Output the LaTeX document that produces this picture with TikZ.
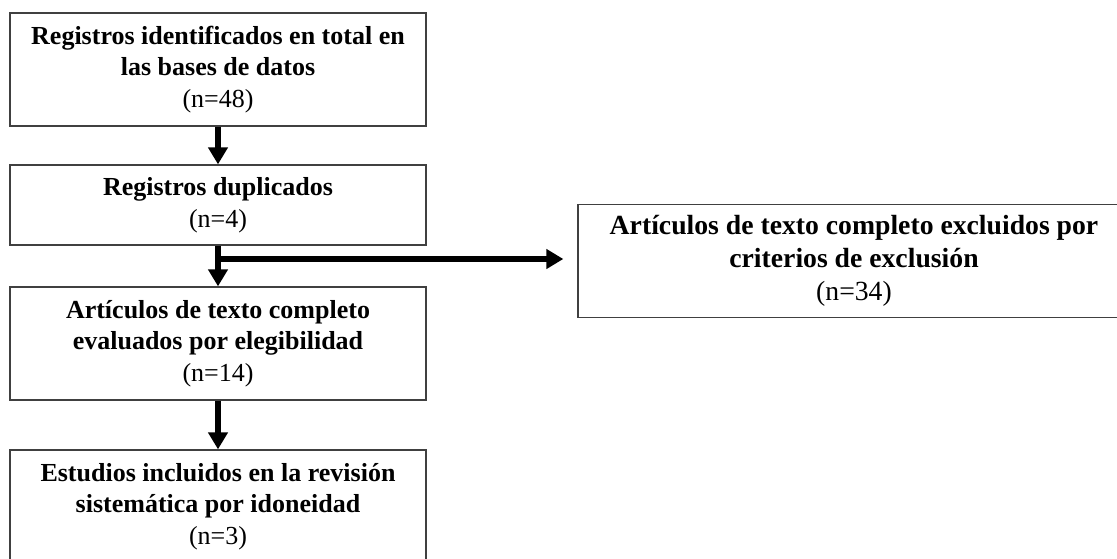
\documentclass[tikz,border=0pt]{standalone}
\usepackage{fontspec}
\setmainfont{Liberation Serif}
\usetikzlibrary{positioning,arrows.meta}
\tikzset{box/.style={draw=black!75,line width=1.3pt,rectangle,minimum width=416pt,minimum height=113pt,align=center,inner sep=0pt,font=\fontsize{26}{31.5}\selectfont\bfseries}}
\tikzset{bigbox/.style={box,minimum width=552pt,font=\fontsize{27.7}{33}\selectfont\bfseries}}
\tikzset{arrow/.style={draw,line width=5.5pt,-{Triangle[width=19pt,length=17pt]}}}

\begin{document}
\begin{tikzpicture}[x=1pt,y=-1pt,node distance=135.5pt]
    \useasboundingbox (0,0) rectangle (1117,558);

    \node[box] (total) at (218,69.5) {Registros identificados en total en\\las bases de datos\\\mdseries(n=48)};
    \node[box,below of=total,minimum height=80pt] (dup) {Registros duplicados\\\mdseries(n=4)};
    \node[box,below of=dup,node distance=138.5pt] (eval) {Art\'iculos de texto completo\\evaluados por elegibilidad\\\mdseries(n=14)};
    \node[box,below of=eval,node distance=163pt] (incl) {Estudios incluidos en la revisi\'on\\sistem\'atica por idoneidad\\\mdseries(n=3)};
    \node[bigbox] (excl) at (854,261) {Art\'iculos de texto completo excluidos por\\criterios de exclusi\'on\\\mdseries(n=34)};

    \coordinate (split) at (218,259);

        \path[arrow] (total) -- (dup);
        \path[arrow] (dup) -- (eval);
        \path[arrow] (eval) -- (incl);
        \path[arrow,shorten >=14pt] (split) -- (split -| excl.west);
\end{tikzpicture}
\end{document}
